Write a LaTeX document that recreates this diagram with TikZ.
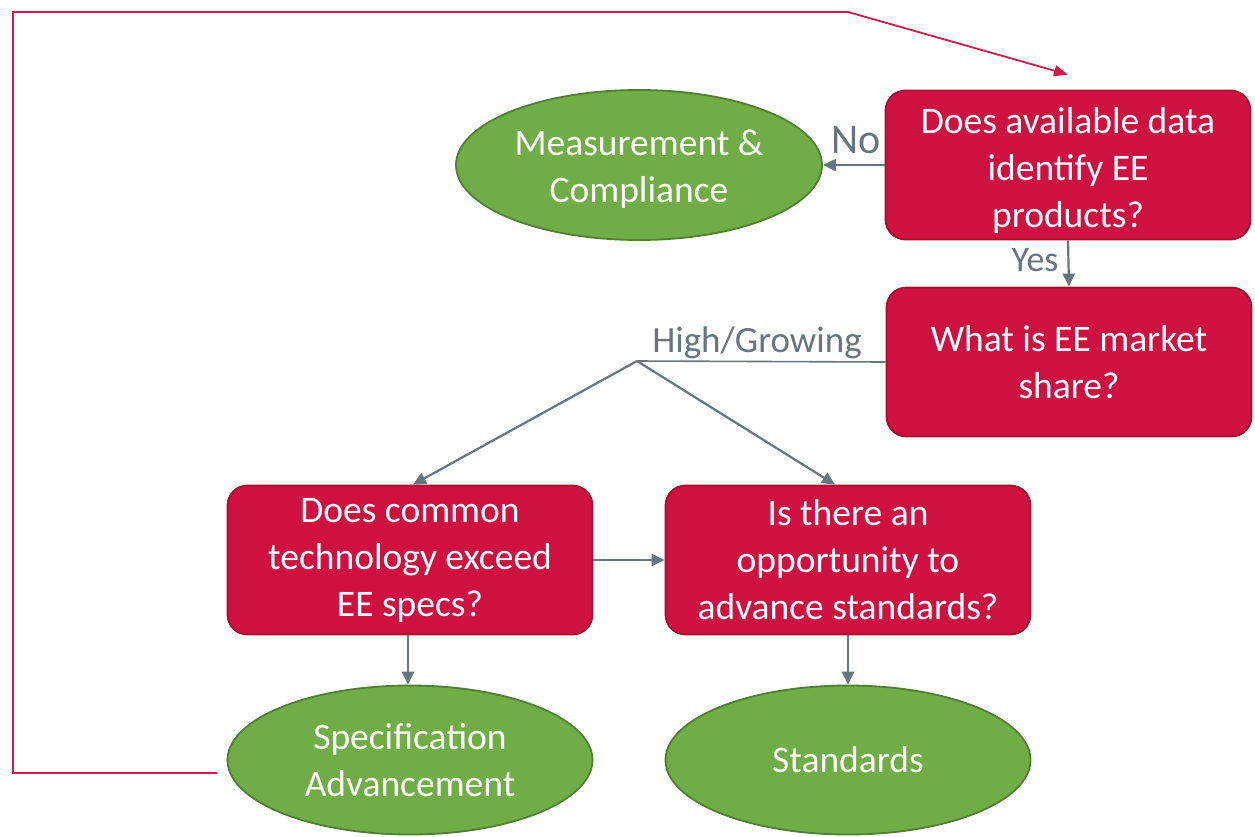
\documentclass[tikz,border=0pt]{standalone}
\usepackage{fontspec}
\setmainfont{Carlito}
\usetikzlibrary{arrows.meta,shapes.geometric}
\definecolor{boxred}{HTML}{CE1141}
\definecolor{boxredline}{HTML}{A5102F}
\definecolor{ovgreen}{HTML}{70AD47}
\definecolor{ovgreenline}{HTML}{507E32}
\definecolor{conngray}{HTML}{67757C}
\definecolor{loopred}{HTML}{D21A4C}
\tikzset{
  qbox/.style={draw=boxredline, line width=1.8pt, fill=boxred, rounded corners=20pt,
    minimum width=365pt, minimum height=149pt, text=white, align=center,
    font=\fontsize{37.5}{47}\selectfont, inner sep=0pt},
  oval/.style={ellipse, draw=ovgreenline, line width=1.8pt, fill=ovgreen,
    minimum width=365pt, minimum height=149pt, text=white, align=center,
    font=\fontsize{37.5}{47}\selectfont, inner sep=0pt},
  wtext/.style={text=white, align=center, font=\fontsize{37.5}{47}\selectfont, inner sep=0pt},
  conn/.style={draw=conngray, line width=2.2pt, -{Triangle[length=13pt,width=12pt]}},
  plainconn/.style={draw=conngray, line width=2.2pt},
  loopline/.style={draw=loopred, line width=1.8pt},
  lbl/.style={text=conngray, inner sep=0pt}
}
\begin{document}
\begin{tikzpicture}[x=1pt,y=-1pt]
\useasboundingbox (0,0) rectangle (1255,836);
\node[qbox] (q1) at (1068,165) {};
\node[wtext] (q1t) at ([yshift=-5pt]q1.center) {Does available data\\identify EE\\products?};
\node[oval, minimum width=366pt, minimum height=150pt] (mc) at (639,165) {};
\node[wtext] (mct) at ([yshift=-4pt]mc.center) {Measurement \&\\Compliance};
\node[qbox] (q2) at (1069,362) {What is EE market\\share?};
\node[qbox] (q3) at (410,560) {Does common\\technology exceed\\EE specs?};
\node[qbox] (q4) at (848,560) {Is there an\\opportunity to\\advance standards?};
\node[oval] (sa) at (410,760) {Specification\\Advancement};
\node[oval] (st) at (848,760) {Standards};
% connectors
\draw[conn] (q1.west) -- (mc.east);
\node[lbl, font=\fontsize{42}{46}\selectfont] (no) at (856,140) {No};
\draw[conn] (q1.south) -- (q2.north);
\node[lbl, font=\fontsize{36}{40}\selectfont] (yes) at (1035,260) {Yes};
\coordinate (split) at (637,361);
\draw[plainconn, line width=1.6pt] (q2.west) -- (split);
\node[lbl, font=\fontsize{37}{40}\selectfont] (hg) at (757,343) {High/Growing};
\draw[conn] (split) -- ([xshift=3pt]q3.north);
\draw[conn] (split) -- ([xshift=-13pt]q4.north);
\draw[conn] (q3.east) -- (q4.west);
\draw[conn] ([xshift=-2pt]q3.south) -- ([xshift=-2pt]sa.north);
\draw[conn] (q4.south) -- (st.north);
% loop
\coordinate (l0) at (217,773);
\coordinate (l1) at (13,773);
\coordinate (l2) at (13,12);
\coordinate (l3) at (848,12);
\draw[loopline, -{Triangle[length=14pt,width=11pt]}] (l0) -- (l1) -- (l2) -- (l3) -- ([yshift=15pt]q1.north);
\end{tikzpicture}
\end{document}
